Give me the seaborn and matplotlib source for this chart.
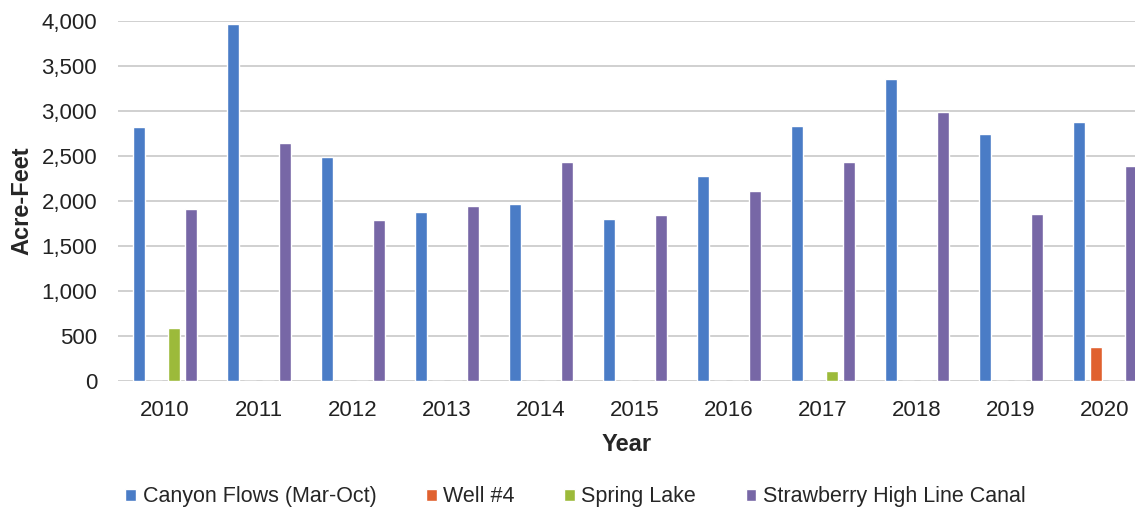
import numpy as np
import pandas as pd
import matplotlib
matplotlib.use("Agg")
import matplotlib.pyplot as plt
import seaborn as sns

# values
years = ["2010", "2011", "2012", "2013", "2014", "2015", "2016", "2017", "2018", "2019", "2020"]
canyon = [2815, 3963, 2482, 1878, 1967, 1796, 2274, 2833, 3348, 2741, 2870]
well4 = [0, 0, 0, 0, 0, 0, 0, 0, 0, 0, 378]
spring_lake = [585, 0, 0, 0, 0, 0, 0, 111, 0, 0, 0]
strawberry = [1908, 2641, 1785, 1944, 2433, 1845, 2111, 2426, 2989, 1852, 2385]
series_names = ["Canyon Flows (Mar-Oct)", "Well #4", "Spring Lake", "Strawberry High Line Canal"]
colors = ["#4a7cc6", "#e0612f", "#9cba3a", "#7767a6"]

rows = []
for name, vals in zip(series_names, [canyon, well4, spring_lake, strawberry]):
    for y, v in zip(years, vals):
        rows.append({"Year": y, "Source": name, "Acre-Feet": v})
df = pd.DataFrame(rows)

sns.set_style("white")
plt.rcParams["font.family"] = ["Liberation Sans", "DejaVu Sans"]

fig = plt.figure(figsize=(11.35, 5.23), dpi=100)
ax = fig.add_axes([0.104, 0.2715, 0.896, 0.689])

sns.barplot(data=df, x="Year", y="Acre-Feet", hue="Source", hue_order=series_names,
            palette=colors, width=0.745, gap=0.31, errorbar=None, ax=ax, saturation=1)

ax.set_ylim(0, 4000)
ax.set_yticks(np.arange(0, 4001, 500))
ax.set_yticklabels([f"{v:,}" for v in range(0, 4001, 500)])
ax.set_xlim(-0.5, 10.32)
ax.yaxis.grid(True, color="#c8c8c8", linewidth=1.2)
ax.set_axisbelow(True)
for s in ax.spines.values():
    s.set_visible(False)
ax.tick_params(axis="both", length=0, labelsize=16, colors="#222222")
ax.tick_params(axis="x", pad=14)
ax.tick_params(axis="y", pad=15)
ax.set_xlabel("Year", fontsize=17, fontweight="bold", labelpad=8)
ax.set_ylabel("Acre-Feet", fontsize=17, fontweight="bold", labelpad=6)

ax.legend_.remove()
handles, labels = ax.get_legend_handles_labels()
fig.legend(handles, labels, loc="center", bbox_to_anchor=(0.507, 0.05), ncol=4, frameon=False,
           fontsize=15.5, handlelength=0.5, handleheight=0.5, handletextpad=0.3, columnspacing=2.3)

fig.savefig("out.png", dpi=100)
